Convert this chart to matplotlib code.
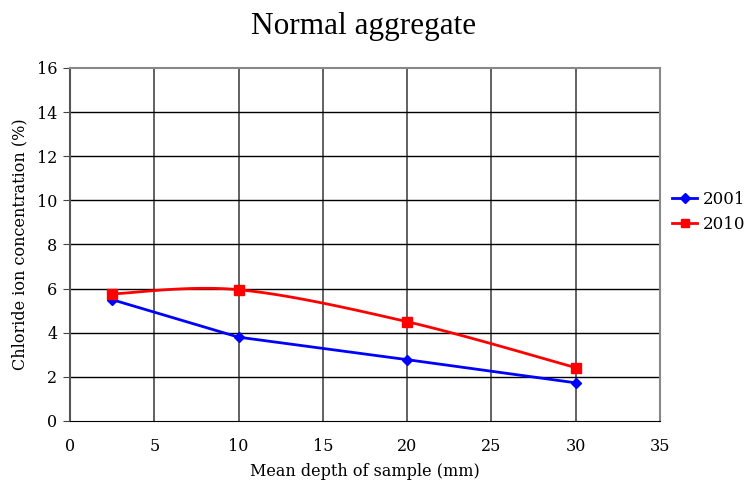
import numpy as np
import matplotlib.pyplot as plt

depth = [2.5, 10, 20, 30]
chloride_2001 = [5.5, 3.8, 2.78, 1.73]
chloride_2010 = [5.76, 5.95, 4.5, 2.42]


def smooth(xs, ys, steps=40):
    # Excel-style smoothed line: cubic Bezier segments with Catmull-Rom tangents
    xs = np.asarray(xs, float)
    ys = np.asarray(ys, float)
    px = np.concatenate([[xs[0]], xs, [xs[-1]]])
    py = np.concatenate([[ys[0]], ys, [ys[-1]]])
    t = np.linspace(0, 1, steps)
    out_x, out_y = [], []
    for i in range(1, len(px) - 2):
        p0 = np.array([px[i], py[i]])
        p3 = np.array([px[i + 1], py[i + 1]])
        p1 = p0 + (np.array([px[i + 1], py[i + 1]]) - np.array([px[i - 1], py[i - 1]])) / 6
        p2 = p3 - (np.array([px[i + 2], py[i + 2]]) - np.array([px[i], py[i]])) / 6
        b = ((1 - t) ** 3)[:, None] * p0 + (3 * (1 - t) ** 2 * t)[:, None] * p1 \
            + (3 * (1 - t) * t ** 2)[:, None] * p2 + (t ** 3)[:, None] * p3
        out_x.extend(b[:, 0])
        out_y.extend(b[:, 1])
    return out_x, out_y


plt.rcParams['font.family'] = 'DejaVu Serif'

fig = plt.figure(figsize=(7.54, 4.88), dpi=100)
ax = fig.add_axes([0.0928, 0.1373, 0.7825, 0.7234])

ax.plot(depth, chloride_2001, color='#0000ff', lw=2, marker='D', ms=5, label='2001', zorder=3)
sx, sy = smooth(depth, chloride_2010)
ax.plot(sx, sy, color='#ff0000', lw=2, zorder=3)
ax.plot(depth, chloride_2010, color='#ff0000', lw=0, marker='s', ms=7, zorder=4)
ax.plot([], [], color='#ff0000', lw=2, marker='s', ms=6, label='2010')

ax.set_xlim(0, 35)
ax.set_ylim(0, 16)
ax.set_xticks(range(0, 36, 5))
ax.set_yticks(range(0, 17, 2))
for x in range(5, 35, 5):
    ax.axvline(x, color='#555555', lw=1.3, zorder=1)
for y in range(2, 16, 2):
    ax.axhline(y, color='black', lw=1, zorder=1)

ax.tick_params(axis='x', length=0, pad=12, labelsize=11.5)
ax.tick_params(axis='y', length=5, direction='out', color='#444444', pad=4, labelsize=11.5)
for side in ['top', 'right']:
    ax.spines[side].set_color('#888888')
    ax.spines[side].set_linewidth(1.5)
ax.spines['left'].set_color('#555555')
ax.spines['left'].set_linewidth(1.5)
ax.spines['bottom'].set_color('black')

ax.set_xlabel('Mean depth of sample (mm)', fontsize=11.5, labelpad=6)
ax.set_ylabel('Chloride ion concentration (%)', fontsize=11.5, labelpad=6)
fig.suptitle('Normal aggregate', x=0.482, y=0.975, fontsize=22.5, family='Liberation Serif')

ax.legend(loc='center left', bbox_to_anchor=(0.995, 0.592), frameon=False,
          fontsize=12, handlelength=1.5, handletextpad=0.35, labelspacing=0.45)

fig.savefig('out.png', dpi=100)
